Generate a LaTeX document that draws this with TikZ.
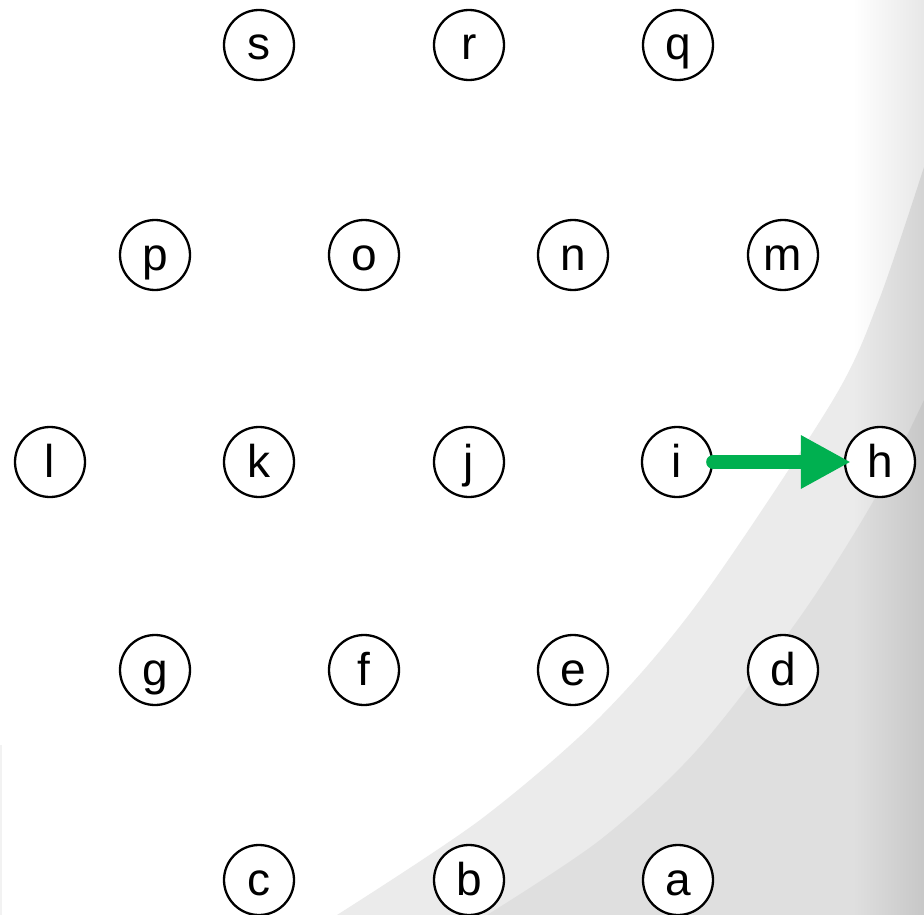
\documentclass[tikz,border=0pt]{standalone}
\usepackage{fontspec}
\setmainfont{Liberation Sans}
\usetikzlibrary{arrows.meta}
\definecolor{bandA}{HTML}{EBEBEB}
\definecolor{bandB}{HTML}{DFDFDF}
\definecolor{arrowgreen}{HTML}{00B050}
\tikzset{
  vtx/.style={circle, draw=black, line width=2.3pt, fill=white, minimum size=70pt, inner sep=0pt,
    font=\fontsize{46}{46}\selectfont, text height=34pt, text depth=4pt},
  greenarrow/.style={draw=arrowgreen, line width=14pt, line cap=round,
    -{Triangle[length=50pt,width=50pt]}, shorten >=-7pt}
}
\begin{document}
\begin{tikzpicture}[x=1pt,y=-1pt]
\useasboundingbox (0,0) rectangle (924,915);
\fill[white] (0,0) rectangle (924,915);
% background bands
\fill[bandA] plot[smooth] coordinates {(337,915) (480,820) (600,717) (700,600) (833,400) (879,300) (924,167)} -- (924,915) -- cycle;
\fill[bandB] plot[smooth] coordinates {(487,915) (600,840) (697,750) (800,617) (874,500) (924,400)} -- (924,915) -- cycle;
% right edge gradient
\foreach \k in {0,...,22} {
  \fill[black, opacity=0.0033] (855+3*\k,0) rectangle (924,915);
}
\fill[black!5] (0,745) rectangle (2,915);
% nodes
\node[vtx] (s) at (259,45) {s};
\node[vtx] (r) at (469,45) {r};
\node[vtx] (q) at (678,45) {q};
\node[vtx] (p) at (155,255) {p};
\node[vtx] (o) at (364,255) {o};
\node[vtx] (n) at (573,255) {n};
\node[vtx] (m) at (783,255) {m};
\node[vtx] (l) at (50,462) {l};
\node[vtx] (k) at (259,462) {k};
\node[vtx] (j) at (469,462) {j};
\node[vtx] (i) at (677,462) {i};
\node[vtx] (h) at (880,462) {h};
\node[vtx] (g) at (155,670) {g};
\node[vtx] (f) at (364,670) {f};
\node[vtx] (e) at (573,670) {e};
\node[vtx] (d) at (783,670) {d};
\node[vtx] (c) at (259,880) {c};
\node[vtx] (b) at (469,880) {b};
\node[vtx] (a) at (678,880) {a};
% arrow
\draw[greenarrow] (i.east) -- (h.west);
\end{tikzpicture}
\end{document}
